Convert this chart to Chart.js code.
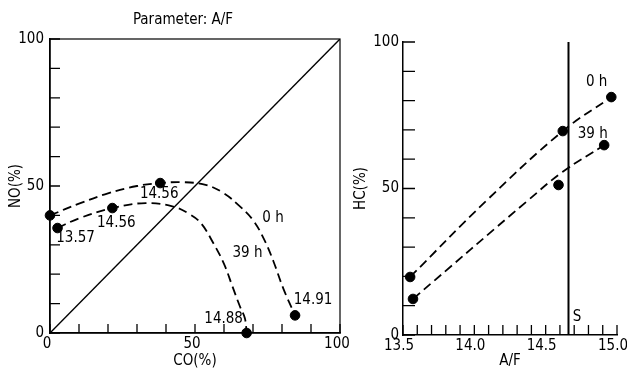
<!DOCTYPE html>
<html>
<head>
<meta charset="utf-8">
<script src="https://cdn.jsdelivr.net/npm/chart.js@4.4.0/dist/chart.umd.min.js"></script>
<style>
  html, body { margin: 0; padding: 0; background: #fff; }
  #wrap { position: relative; width: 627px; height: 370px; }
  canvas { position: absolute; top: 0; }
  #left { left: 0; }
  #right { left: 350px; }
</style>
</head>
<body>
<div id="wrap">
  <canvas id="left" width="350" height="370"></canvas>
  <canvas id="right" width="277" height="370"></canvas>
</div>
<script>
// Left panel: NO(%) vs CO(%), parameter A/F
const coTicks = [0, 50, 100];
const noTicks = [0, 50, 100];
const seriesNames = ['0 h', '39 h'];

const pts0hCO = [0, 38, 84.5];
const pts0hNO = [40, 51, 6];
const pts0hAF = ['', '14.56', '14.91'];
const pts39hCO = [2.6, 21.5, 67.8];
const pts39hNO = [35.7, 42.5, 0];
const pts39hAF = ['13.57', '14.56', '14.88'];

// dashed curves
const curve0hCO = [0, 10, 20, 30, 38, 46, 54, 60, 65, 70, 74, 77, 80.5, 84.5];
const curve0hNO = [40, 44, 47.5, 50, 51, 51.3, 50.3, 47.5, 43.5, 38.4, 31.5, 24.5, 15, 6];
const curve39hCO = [2.6, 10, 21.5, 33, 42.5, 48, 52, 56.3, 60, 63, 65.5, 67.2, 67.8];
const curve39hNO = [35.7, 39, 42.5, 44.2, 43, 40.5, 37.4, 30.6, 23.5, 15.6, 9, 5, 0];
const diagCO = [0, 100];
const diagNO = [0, 100];

// Right panel: HC(%) vs A/F
const afTicks = [13.5, 14.0, 14.5, 15.0];
const hcTicks = [0, 50, 100];
const hc0hAF = [13.55, 14.62, 14.96];
const hc0hHC = [19.8, 69.6, 81.2];
const hc39hAF = [13.57, 14.59, 14.91];
const hc39hHC = [12.3, 51.2, 64.8];
const fit0hAF = [13.55, 14.09, 14.62, 14.96];
const fit0hHC = [19.8, 46.1, 69.6, 81.2];
const fit39hAF = [13.57, 14.38, 14.62, 14.91];
const fit39hHC = [12.3, 46.1, 55.7, 64.8];
const stoichAF = 14.66;

const FAM = '"Liberation Sans Narrow", "DejaVu Sans Condensed", "Liberation Sans", sans-serif';
Chart.defaults.font.family = FAM;
Chart.defaults.font.size = 15;
Chart.defaults.color = '#000';

const xy = (xs, ys) => xs.map((x, i) => ({x: x, y: ys[i]}));
const isTick = (list, v) => list.some(t => Math.abs(t - v) < 1e-6);

// inward tick marks, frame and text labels
const decor = {
  id: 'decor',
  afterDraw(chart, args, opts) {
    const {ctx, chartArea: a, scales} = chart;
    ctx.save();
    ctx.strokeStyle = '#000';
    ctx.lineWidth = 1.3;
    ctx.beginPath();
    scales.x.ticks.forEach(t => {
      const px = scales.x.getPixelForValue(t.value);
      ctx.moveTo(px, a.bottom);
      ctx.lineTo(px, a.bottom - opts.xLen);
    });
    scales.y.ticks.forEach(t => {
      const py = scales.y.getPixelForValue(t.value);
      ctx.moveTo(a.left, py);
      ctx.lineTo(a.left + opts.yLen, py);
    });
    ctx.stroke();
    if (opts.frame) {
      ctx.lineWidth = 1.2;
      ctx.strokeRect(a.left, a.top, a.right - a.left, a.bottom - a.top);
    }
    ctx.fillStyle = '#000';
    ctx.font = '15px ' + FAM;
    ctx.textAlign = 'center';
    ctx.textBaseline = 'middle';
    opts.labels.forEach(l => {
      const px = scales.x.getPixelForValue(l.x) + (l.dx || 0);
      const py = scales.y.getPixelForValue(l.y) + (l.dy || 0);
      ctx.fillText(l.t, px, py);
    });
    if (opts.title) ctx.fillText(opts.title.t, opts.title.x, opts.title.y);
    ctx.restore();
  }
};

const dashed = (data) => ({
  data: data, showLine: true, borderColor: '#000', borderWidth: 1.8,
  borderDash: [9, 5], pointRadius: 0, tension: 0.4, clip: false
});
const dots = (data) => ({
  data: data, showLine: false, pointRadius: 4.8, pointBackgroundColor: '#000',
  pointBorderColor: '#000', clip: false
});
// keep the plot area exactly where it is in the picture
const fixX = h => s => { s.height = h; s.paddingLeft = 0; s.paddingRight = 0; };
const fixY = w => s => { s.width = w; s.paddingTop = 0; s.paddingBottom = 0; };

// Left chart
new Chart(document.getElementById('left'), {
  type: 'scatter',
  data: {
    datasets: [
      dashed(xy(curve0hCO, curve0hNO)),
      dashed(xy(curve39hCO, curve39hNO)),
      {data: xy(diagCO, diagNO), showLine: true, borderColor: '#000', borderWidth: 1.4, pointRadius: 0},
      dots(xy(pts0hCO, pts0hNO)),
      dots(xy(pts39hCO, pts39hNO))
    ]
  },
  options: {
    responsive: false,
    animation: false,
    devicePixelRatio: 1,
    layout: {padding: {left: 0, right: 10, top: 39, bottom: 0}},
    plugins: {
      legend: {display: false},
      tooltip: {enabled: false},
      decor: {
        xLen: 9, yLen: 10, frame: true,
        title: {t: 'Parameter: A/F', x: 183, y: 20},
        labels: [
          {t: pts0hAF[1], x: pts0hCO[1], y: pts0hNO[1], dx: -1, dy: 11},
          {t: pts0hAF[2], x: pts0hCO[2], y: pts0hNO[2], dx: 18, dy: -15},
          {t: pts39hAF[0], x: pts39hCO[0], y: pts39hNO[0], dx: 18, dy: 10},
          {t: pts39hAF[1], x: pts39hCO[1], y: pts39hNO[1], dx: 4, dy: 15},
          {t: pts39hAF[2], x: pts39hCO[2], y: pts39hNO[2], dx: -23, dy: -14},
          {t: seriesNames[0], x: 76.9, y: 39.1},
          {t: seriesNames[1], x: 68.1, y: 27.2}
        ]
      }
    },
    scales: {
      x: {
        type: 'linear', min: 0, max: 100,
        afterFit: fixX(37),
        grid: {display: false, tickLength: 0},
        border: {display: true, color: '#000', width: 1.5},
        ticks: {stepSize: 10, autoSkip: false, maxRotation: 0, padding: 2, labelOffset: -3,
          callback: v => isTick(coTicks, v) ? String(v) : ''},
        title: {display: true, text: 'CO(%)', padding: {top: 0, bottom: 0}}
      },
      y: {
        type: 'linear', min: 0, max: 100,
        afterFit: fixY(50),
        grid: {display: false, tickLength: 0},
        border: {display: true, color: '#000', width: 1.5},
        ticks: {stepSize: 10, autoSkip: false, padding: 6,
          callback: v => isTick(noTicks, v) ? String(v) : ''},
        title: {display: true, text: 'NO(%)', padding: {top: 7, bottom: 0}}
      }
    }
  },
  plugins: [decor]
});

// Right chart
new Chart(document.getElementById('right'), {
  type: 'scatter',
  data: {
    datasets: [
      dashed(xy(fit0hAF, fit0hHC)),
      dashed(xy(fit39hAF, fit39hHC)),
      {data: [{x: stoichAF, y: 0}, {x: stoichAF, y: 100}], showLine: true,
        borderColor: '#000', borderWidth: 2, pointRadius: 0},
      dots(xy(hc0hAF, hc0hHC)),
      dots(xy(hc39hAF, hc39hHC))
    ]
  },
  options: {
    responsive: false,
    animation: false,
    devicePixelRatio: 1,
    layout: {padding: {left: 0, right: 10, top: 42, bottom: 0}},
    plugins: {
      legend: {display: false},
      tooltip: {enabled: false},
      decor: {
        xLen: 10, yLen: 12, frame: false,
        labels: [
          {t: seriesNames[0], x: 14.857, y: 86.2},
          {t: seriesNames[1], x: 14.83, y: 68.6},
          {t: 'S', x: 14.72, y: 6}
        ]
      }
    },
    scales: {
      x: {
        type: 'linear', min: 13.5, max: 15.0,
        afterFit: fixX(35),
        grid: {display: false, tickLength: 0},
        border: {display: true, color: '#000', width: 1.5},
        ticks: {stepSize: 0.1, autoSkip: false, maxRotation: 0, padding: 2, labelOffset: -4,
          callback: v => isTick(afTicks, v) ? v.toFixed(1) : ''},
        title: {display: true, text: 'A/F', padding: {top: 0, bottom: 0}}
      },
      y: {
        type: 'linear', min: 0, max: 100,
        afterFit: fixY(53),
        grid: {display: false, tickLength: 0},
        border: {display: true, color: '#000', width: 1.5},
        ticks: {stepSize: 10, autoSkip: false, padding: 4,
          callback: v => isTick(hcTicks, v) ? String(v) : ''},
        title: {display: true, text: 'HC(%)', padding: {top: 2, bottom: 0}}
      }
    }
  },
  plugins: [decor]
});
</script>
</body>
</html>
